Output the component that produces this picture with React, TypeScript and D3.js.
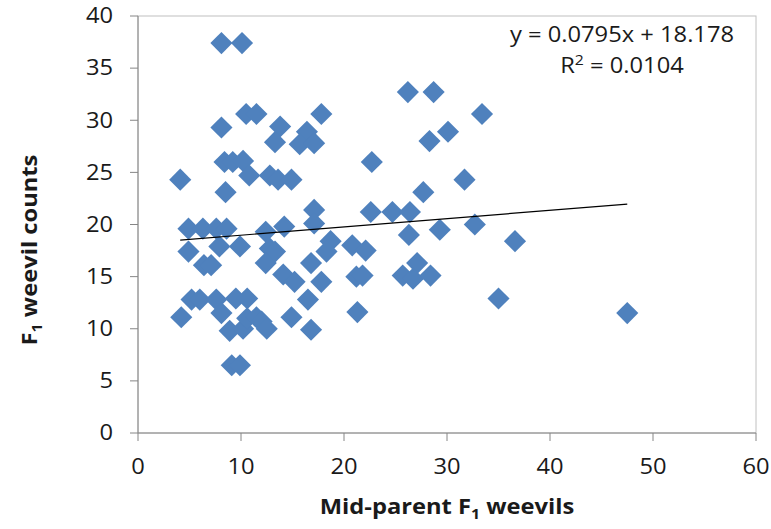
import React from 'react';
import * as d3 from 'd3';

// mid-parent F1 weevils (x) and F1 weevil counts (y)
const midParent = [
  4.1, 4.2, 8.1, 10.1, 8.1, 10.5, 11.5, 8.4, 9.2, 10.2, 10.8, 8.5, 4.9, 6.3, 7.6, 8.6,
  4.9, 7.9, 9.9, 6.4, 7.1, 5.2, 6.0, 7.6, 9.5, 10.6, 8.1, 8.9, 10.2, 9.1, 9.9, 10.6,
  11.5, 12.0, 12.5, 13.8, 13.3, 17.8, 16.4, 15.7, 17.1, 22.7, 12.8, 13.6, 14.9, 17.1,
  17.1, 22.6, 12.4, 14.2, 18.7, 20.8, 12.8, 13.3, 12.4, 18.3, 22.1, 16.8, 14.1, 15.2,
  17.8, 21.2, 21.8, 16.5, 21.3, 14.9, 16.8, 26.2, 28.7, 33.4, 28.3, 30.1, 31.7, 27.7,
  24.7, 26.4, 26.3, 29.3, 32.7, 36.6, 25.7, 27.1, 26.7, 28.4, 35.0, 47.5,
];
const f1Counts = [
  24.3, 11.1, 37.4, 37.4, 29.3, 30.6, 30.6, 26.0, 26.0, 26.1, 24.7, 23.1, 19.6, 19.6, 19.6, 19.6,
  17.4, 17.9, 17.9, 16.1, 16.1, 12.8, 12.8, 12.8, 12.9, 12.9, 11.5, 9.8, 10.0, 6.5, 6.5, 11.0,
  11.1, 10.7, 10.0, 29.4, 27.9, 30.6, 28.9, 27.7, 27.8, 26.0, 24.7, 24.3, 24.3, 21.4,
  20.1, 21.2, 19.3, 19.8, 18.4, 18.0, 17.7, 17.4, 16.3, 17.4, 17.5, 16.3, 15.2, 14.5,
  14.5, 15.0, 15.1, 12.8, 11.6, 11.1, 9.9, 32.7, 32.7, 30.6, 28.0, 28.9, 24.3, 23.1,
  21.2, 21.2, 19.0, 19.5, 20.0, 18.4, 15.1, 16.3, 14.8, 15.1, 12.9, 11.5,
];

const xTicks = [0, 10, 20, 30, 40, 50, 60];
const yTicks = [0, 5, 10, 15, 20, 25, 30, 35, 40];

// linear trendline
const slope = 0.0795;
const intercept = 18.178;
const equationText = 'y = 0.0795x + 18.178';
const rSquaredText = '0.0104';

const W = 771;
const H = 529;
const plot = { left: 138, right: 756, top: 16, bottom: 433 };
const font = "'Open Sans', sans-serif";
const ink = '#1a1a1a';
const stretch = 1.13; // the original glyphs are a little wider than Open Sans

// text drawn at (x, y), optionally rotated, stretched along its own direction
const Label = ({ x, y, rotate = 0, anchor = 'middle', size = 21, bold = false, children }: any) => (
  <text
    transform={`translate(${x},${y}) rotate(${rotate}) scale(${stretch},1)`}
    textAnchor={anchor}
    dy="0.35em"
    fontFamily={font}
    fontSize={size}
    fontWeight={bold ? 'bold' : 'normal'}
    fill={ink}
  >
    {children}
  </text>
);

export default function App() {
  const x = d3.scaleLinear().domain([0, 60]).range([plot.left, plot.right]);
  const y = d3.scaleLinear().domain([0, 40]).range([plot.bottom, plot.top]);

  const diamond = d3.symbol().type(d3.symbolSquare).size(245)();

  const xExt = d3.extent(midParent) as [number, number];
  const trend = d3
    .line<number>()
    .x((d) => x(d))
    .y((d) => y(slope * d + intercept))(xExt);

  return (
    <svg width={W} height={H} style={{ position: 'absolute', left: 0, top: 0, background: '#fff' }}>
      {/* plot area border */}
      <rect
        x={plot.left}
        y={plot.top}
        width={plot.right - plot.left}
        height={plot.bottom - plot.top}
        fill="none"
        stroke="#c0c0c0"
        strokeWidth={1}
      />

      {/* axes */}
      <line x1={plot.left} x2={plot.left} y1={plot.top} y2={plot.bottom} stroke="#868686" />
      <line x1={plot.left} x2={plot.right} y1={plot.bottom} y2={plot.bottom} stroke="#868686" />

      {yTicks.map((t) => (
        <g key={'y' + t}>
          <line x1={plot.left - 8} x2={plot.left} y1={y(t)} y2={y(t)} stroke="#868686" />
          <Label x={plot.left - 25} y={y(t)} anchor="end">
            {t}
          </Label>
        </g>
      ))}

      {xTicks.map((t) => (
        <g key={'x' + t}>
          <line x1={x(t)} x2={x(t)} y1={plot.bottom} y2={plot.bottom + 8} stroke="#868686" />
          <Label x={x(t)} y={plot.bottom + 34}>
            {t}
          </Label>
        </g>
      ))}

      {/* points */}
      {midParent.map((d, i) => (
        <path
          key={i}
          d={diamond}
          transform={`translate(${x(d)},${y(f1Counts[i])}) rotate(45)`}
          fill="#4f81bd"
        />
      ))}

      {/* trendline */}
      <path d={trend} fill="none" stroke="#000" strokeWidth={1.2} />

      {/* equation */}
      <Label x={622} y={35}>
        {equationText}
      </Label>
      <Label x={622} y={66}>
        R<tspan fontSize={14} dy="-8">2</tspan>
        <tspan dy="8"> = {rSquaredText}</tspan>
      </Label>

      {/* axis titles */}
      <Label x={30} y={250} rotate={-90} bold>
        F<tspan fontSize={14} dy="5">1</tspan>
        <tspan dy="-5"> weevil counts</tspan>
      </Label>
      <Label x={447} y={507} bold>
        Mid-parent F<tspan fontSize={14} dy="5">1</tspan>
        <tspan dy="-5"> weevils</tspan>
      </Label>
    </svg>
  );
}
